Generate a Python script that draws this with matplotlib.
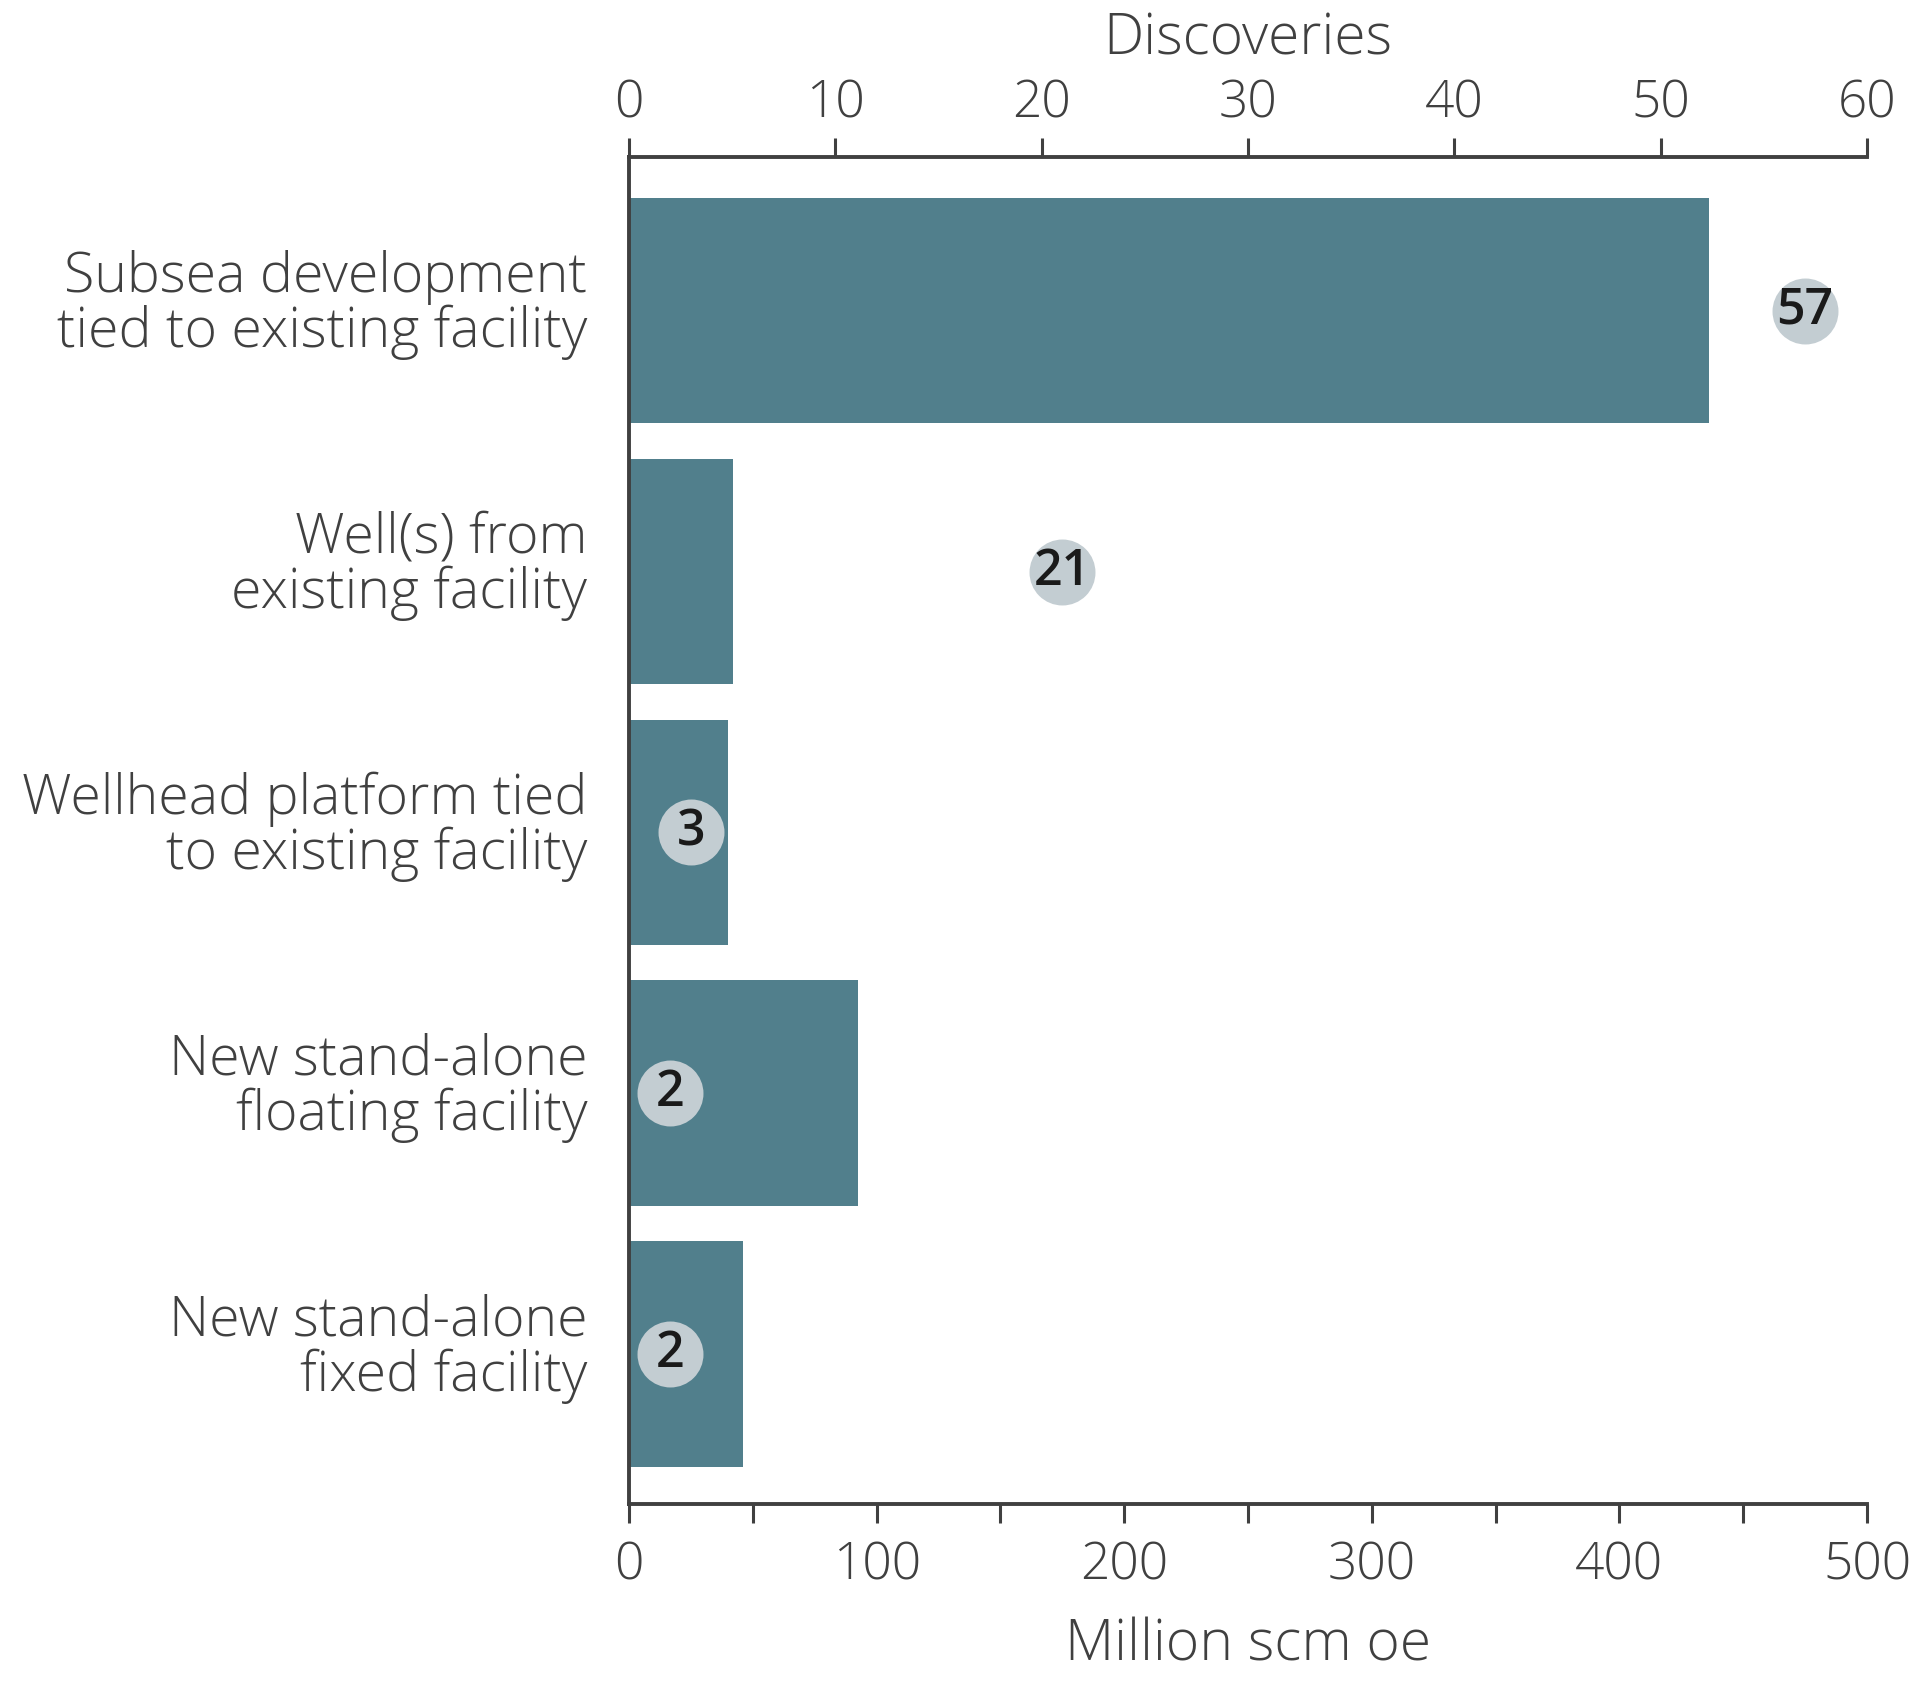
import matplotlib.pyplot as plt
from matplotlib.transforms import ScaledTranslation

categorias = ["Subsea development\ntied to existing facility",
              "Well(s) from\nexisting facility",
              "Wellhead platform tied\nto existing facility",
              "New stand-alone\nfloating facility",
              "New stand-alone\nfixed facility"]
volumen = [436, 42, 40, 92.5, 46]     # Million scm oe
descubrimientos = [57, 21, 3, 2, 2]  # Discoveries

color_barra = "#517f8c"
color_circulo = "#c3cdd2"
color_texto = "#404040"

plt.rcParams['font.family'] = ['Open Sans', 'DejaVu Sans']

fig = plt.figure(figsize=(19.2, 16.95), dpi=100)
ax = fig.add_axes([0.3276, 0.1127, 0.6448, 0.7947])

posiciones = list(range(len(categorias)))
ax.barh(posiciones, volumen, height=0.865, color=color_barra, zorder=2)
ax.set_xlim(0, 500)
ax.set_ylim(4.574, -0.589)

ax.set_xticks([0, 100, 200, 300, 400, 500])
ax.set_xticks([50, 150, 250, 350, 450], minor=True)
ax.set_yticks(posiciones)
ax.set_yticklabels(categorias, fontsize=40, color=color_texto,
                   linespacing=1.0, ha='right', fontweight='light')
ax.tick_params(axis='y', length=0, pad=30)
# subir un poco las etiquetas de categoria
desplaza = ScaledTranslation(0, 0.12, fig.dpi_scale_trans)
for t in ax.get_yticklabels():
    t.set_transform(t.get_transform() + desplaza)
ax.tick_params(axis='x', which='both', direction='out', length=14, width=2.2,
               color=color_texto, labelsize=37, labelcolor=color_texto, pad=12)
for t in ax.get_xticklabels():
    t.set_fontweight('light')
ax.set_xlabel("Million scm oe", fontsize=41, color=color_texto, labelpad=18,
              fontweight='light')

for lado in ['right', 'top']:
    ax.spines[lado].set_visible(False)
for lado in ['left', 'bottom']:
    ax.spines[lado].set_linewidth(2.8)
    ax.spines[lado].set_color(color_texto)

ax2 = ax.twiny()
ax2.set_xlim(0, 60)
ax2.set_xticks(range(0, 61, 10))
ax2.tick_params(axis='x', direction='out', length=14, width=2.2,
                color=color_texto, labelsize=37, labelcolor=color_texto, pad=6)
for t in ax2.get_xticklabels():
    t.set_fontweight('light')
ax2.set_xlabel("Discoveries", fontsize=41, color=color_texto, labelpad=17,
               fontweight='light')
for lado in ['right', 'left', 'bottom']:
    ax2.spines[lado].set_visible(False)
ax2.spines['top'].set_linewidth(2.8)
ax2.spines['top'].set_color(color_texto)

ax2.scatter(descubrimientos, posiciones, s=2256, color=color_circulo,
            zorder=3, clip_on=False, linewidths=0)
for d, p in zip(descubrimientos, posiciones):
    ax2.text(d, p, str(d), ha='center', va='center', fontsize=36,
             fontweight='semibold', color="#1a1a1a", zorder=4)

fig.savefig("out.png", dpi=100)
